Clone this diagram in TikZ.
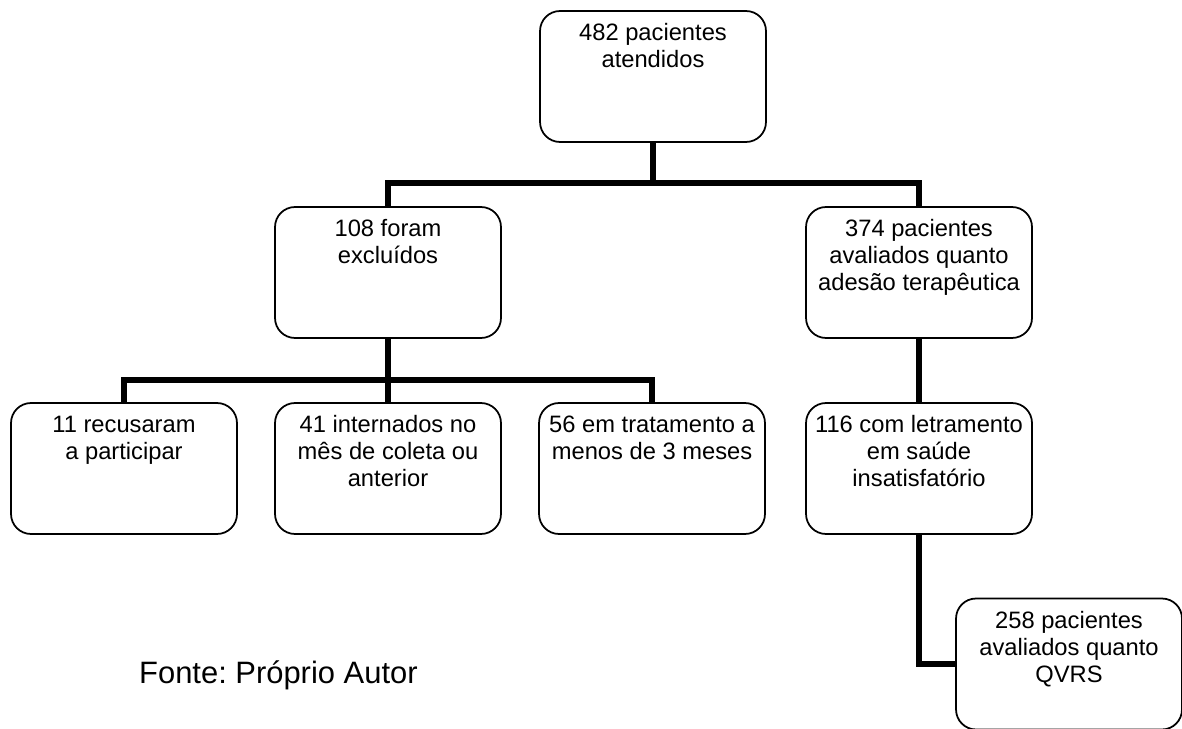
\documentclass[tikz,border=0pt]{standalone}
\usepackage{fontspec}
\setmainfont{Liberation Sans}
\usepackage{tikz}
\usetikzlibrary{positioning}
\frenchspacing

\newcommand{\caixatexto}[1]{\parbox[c][2.62cm][t]{4.52cm}{\centering\vspace*{6pt}\strut#1}}

\begin{document}
\begin{tikzpicture}[
x=0.02cm, y=-0.02cm,
font=\fontsize{13.5}{15.4}\selectfont,
caixa/.style={draw, line width=1pt, rounded corners=0.4cm, inner sep=0pt},
conector/.style={line width=3pt}
]
    \useasboundingbox (0,0) rectangle (1182,729);

    % caixas
    \node[caixa] (topo) at (653,76.5) {\caixatexto{482 pacientes\\ atendidos}};
    \node[caixa] (exc)  at (388,272.5) {\caixatexto{108 foram\\ excluídos}};
    \node[caixa] (aval) at (919,272.5) {\caixatexto{374 pacientes\\ avaliados quanto\\ adesão terapêutica}};
    \node[caixa] (rec)  at (124,468.5) {\caixatexto{11 recusaram\\ a participar}};
    \node[caixa] (int)  at (388,468.5) {\caixatexto{41 internados no\\ mês de coleta ou\\ anterior}};
    \node[caixa] (trat) at (652,468.5) {\caixatexto{56 em tratamento a\\ menos de 3 meses}};
    \node[caixa] (letr) at (919,468.5) {\caixatexto{116 com letramento\\ em saúde\\ insatisfatório}};
    \node[caixa] (qvrs) at (1069,664) {\caixatexto{258 pacientes\\ avaliados quanto\\ QVRS}};

    % ligacoes
    \coordinate (j0) at (653,183);
    \coordinate (j1) at (388,183);
    \coordinate (j2) at (919,183);
    \coordinate (k1) at (124,380);
    \coordinate (k2) at (652,380);

    \draw[conector] (topo.south) -- (j0);
    \draw[conector] (exc.north) -- (j1) -- (j2) -- (aval.north);
    \draw[conector] (exc.south) -- (int.north);
    \draw[conector] (rec.north) -- (k1) -- (k2) -- (trat.north);
    \draw[conector] (aval.south) -- (letr.north);
    \draw[conector] (letr.south) |- (qvrs.west);

    \node[anchor=base west, font=\fontsize{17.6}{20}\selectfont] (fonte) at (133,683) {Fonte: Próprio Autor};
\end{tikzpicture}
\end{document}
